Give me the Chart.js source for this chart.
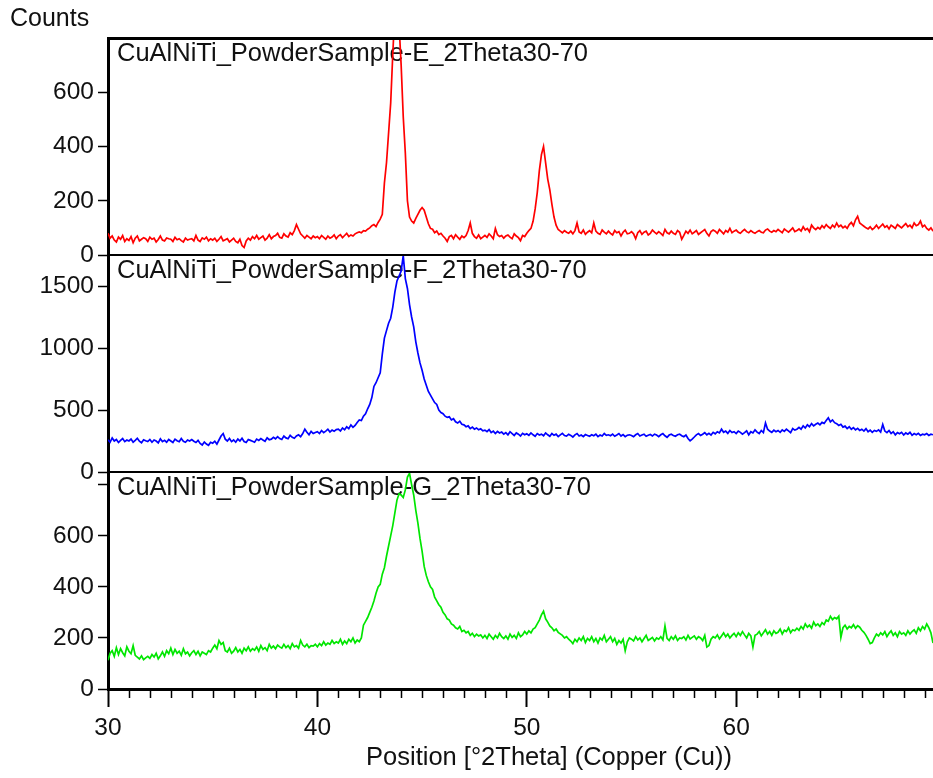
<!DOCTYPE html>
<html>
<head>
<meta charset="utf-8">
<title>CuAlNiTi powder samples - XRD</title>
<script src="https://cdn.jsdelivr.net/npm/chart.js@4.4.1/dist/chart.umd.min.js"></script>
<style>
  html, body { margin: 0; padding: 0; background: #fff; }
  #wrap { width: 933px; height: 778px; }
</style>
</head>
<body>
<div id="wrap"><canvas id="xrdChart" width="933" height="778"></canvas></div>
<script>
// scan: 30 .. 69.4 °2Theta, step 0.1
const scanStart = 30;
const scanStep = 0.1;

const sampleNames = [
  'CuAlNiTi_PowderSample-E_2Theta30-70',
  'CuAlNiTi_PowderSample-F_2Theta30-70',
  'CuAlNiTi_PowderSample-G_2Theta30-70'
];

// one row per degree (x.0 .. x.9)
const countsE = [
  80, 62, 70, 55, 48, 66, 58, 72, 50, 60,
  54, 68, 45, 62, 70, 52, 58, 64, 60, 50,
  66, 58, 62, 48, 57, 70, 55, 52, 63, 60,
  58, 50, 65, 56, 60, 53, 48, 62, 55, 58,
  60, 52, 72, 55, 50, 63, 58, 66, 52, 60,
  55, 62, 50, 58, 68, 52, 56, 60, 48, 55,
  62, 50, 45, 58, 35, 28, 52, 62, 55, 68,
  60, 72, 58, 64, 70, 55, 62, 75, 60, 68,
  72, 80, 65, 62, 78, 70, 66, 82, 75, 90,
  112, 95, 78, 70, 62, 72, 66, 60, 70, 64,
  68, 60, 72, 65, 58, 70, 62, 66, 74, 60,
  70, 75, 64, 72, 80, 68, 74, 70, 78, 82,
  85, 82, 90, 88, 95, 100, 108, 112, 105, 120,
  132, 150, 265, 340, 450, 560, 740, 900, 980, 850,
  700, 510, 375, 200, 140, 125, 118, 135, 150, 165,
  175, 165, 140, 115, 98, 95, 82, 88, 75, 80,
  70, 62, 50, 68, 72, 60, 75, 66, 58, 70,
  64, 72, 90, 118, 80, 68, 62, 74, 60, 66,
  72, 65, 78, 70, 60, 98, 75, 68, 72, 62,
  70, 74, 66, 60, 78, 70, 64, 53, 72, 68,
  80, 90, 98, 124, 170, 230, 311, 370, 400, 340,
  280, 240, 187, 140, 110, 94, 88, 82, 90, 84,
  80, 88, 78, 90, 118, 85, 80, 92, 76, 84,
  90, 82, 118, 88, 80, 76, 92, 84, 78, 88,
  80, 74, 90, 82, 86, 70, 84, 92, 78, 80,
  86, 78, 60, 82, 90, 76, 84, 88, 74, 80,
  92, 84, 78, 86, 80, 72, 94, 82, 78, 88,
  80, 76, 90, 84, 58, 72, 88, 80, 92, 78,
  84, 90, 76, 82, 88, 94, 80, 70, 86, 92,
  88, 80, 94, 86, 78, 90, 84, 98, 82, 88,
  92, 84, 80, 88, 94, 86, 82, 90, 84, 80,
  86, 90, 84, 82, 92, 96, 88, 84, 90, 86,
  94, 88, 82, 96, 90, 84, 92, 100, 86, 90,
  96, 88, 104, 92, 98, 86, 110, 100, 94, 102,
  96, 108, 100, 112, 104, 98, 110, 102, 118, 104,
  110, 100, 106, 98, 112, 120, 108, 130, 143, 118,
  112, 106, 100, 96, 104, 94, 100, 110, 98, 106,
  114, 102, 108, 96, 110, 104, 98, 112, 106, 100,
  108, 116, 104, 110, 100, 118, 108, 112, 125, 104,
  110, 98, 92, 100, 88
];

const countsF = [
  260, 240, 275, 250, 262, 238, 255, 270, 245, 258,
  250, 265, 240, 255, 272, 248, 236, 260, 252, 245,
  262, 240, 258, 250, 235, 268, 245, 255, 240, 262,
  250, 238, 265, 252, 244, 270, 248, 240, 258, 250,
  262, 248, 238, 255, 230, 218, 242, 225, 215, 240,
  232, 248, 225, 258, 290, 310, 265, 250, 270, 245,
  258, 240, 265, 250, 272, 246, 238, 262, 255, 248,
  240, 265, 255, 270, 258, 248, 275, 260, 265, 280,
  268, 285, 270, 262, 290, 275, 268, 295, 280, 272,
  290, 300, 285, 310, 345, 320, 300, 328, 310, 318,
  325, 310, 335, 318, 330, 345, 322, 338, 328, 342,
  345, 330, 355, 340, 365, 350, 380, 360, 375, 400,
  420, 415, 450, 470, 510, 545, 600, 690, 720, 760,
  800, 950, 1080, 1140, 1200, 1240, 1330, 1450, 1540, 1580,
  1620, 1745, 1560, 1480, 1350, 1250, 1170, 1050, 960, 880,
  820, 750, 700, 650, 620, 590, 560, 545, 500, 480,
  470, 450, 440, 445, 420, 430, 405, 395, 410, 385,
  380, 365, 372, 350, 362, 345, 355, 340, 348, 332,
  338, 325, 342, 318, 330, 310, 328, 315, 322, 305,
  318, 300, 325, 310, 295, 315, 305, 290, 312, 300,
  308, 295, 315, 300, 288, 310, 298, 305, 292, 315,
  300, 288, 310, 296, 305, 285, 300, 312, 294, 290,
  305, 295, 282, 300, 310, 290, 298, 285, 302, 295,
  288, 300, 292, 305, 285, 298, 290, 310, 295, 300,
  292, 305, 288, 298, 310, 290, 302, 285, 296, 300,
  295, 285, 300, 310, 290, 298, 305, 288, 296, 302,
  290, 305, 298, 285, 300, 310, 292, 280, 298, 305,
  295, 288, 300, 305, 292, 285, 298, 270, 252, 265,
  282, 300, 310, 295, 305, 318, 300, 312, 298, 320,
  308, 325, 315, 345, 320, 330, 312, 335, 318, 325,
  310, 330, 320, 305, 318, 332, 300, 325, 315, 340,
  322, 310, 335, 318, 395, 345, 330, 320, 338, 325,
  335, 320, 340, 328, 345, 332, 318, 350, 338, 345,
  360, 345, 372, 355, 380, 365, 390, 372, 385, 395,
  380, 400, 392, 415, 437, 405, 420, 398, 390, 375,
  385, 362, 370, 350, 365, 345, 358, 340, 352, 335,
  345, 330, 350, 325, 338, 320, 335, 328, 340, 322,
  383, 330, 318, 335, 310, 325, 300, 318, 308, 320,
  298, 315, 305, 320, 296, 310, 300, 312, 295, 305,
  300, 310, 295, 305, 300
];

const countsG = [
  113, 140, 150, 128, 162, 135, 158, 142, 130, 165,
  148, 138, 170, 132, 125, 118, 130, 115, 122, 128,
  120, 135, 125, 140, 118, 130, 145, 128, 150, 138,
  160, 135, 155, 140, 148, 132, 158, 138, 145, 130,
  142, 150, 135, 148, 130, 145, 140, 135, 150, 145,
  160, 172, 158, 190, 175, 182, 150, 145, 160, 140,
  148, 162, 145, 155, 140, 160, 150, 165, 148, 158,
  152, 165, 148, 170, 155, 162, 150, 175, 160, 168,
  158, 172, 165, 160, 175, 162, 170, 158, 178, 165,
  170, 160, 190, 172, 165, 175, 162, 170, 168, 175,
  165, 178, 170, 185, 172, 180, 175, 190, 178, 185,
  180, 195, 175, 188, 178, 195, 185, 200, 180, 192,
  185, 200, 250, 265, 280, 300, 320, 345, 375, 400,
  410, 450, 475, 520, 560, 600, 640, 690, 740, 765,
  760, 750, 780, 830, 845, 800, 760, 700, 650, 590,
  540, 480, 445, 420, 400, 390, 360, 345, 330, 320,
  300, 290, 275, 270, 255, 250, 240, 235, 245, 225,
  230, 220, 225, 210, 218, 205, 215, 208, 212, 200,
  210, 198, 215, 205, 195, 210, 200, 218, 205, 198,
  208, 195, 215, 202, 210, 198, 220, 205, 212, 225,
  215, 228, 220, 235, 240, 255, 270, 290, 305, 275,
  262, 247, 240, 228, 235, 222, 216, 210, 200, 205,
  195, 188, 178, 195, 185, 200, 190, 205, 182, 198,
  190, 205, 185, 198, 180, 200, 192, 210, 185, 195,
  205, 185, 198, 175, 190, 180, 195, 150, 185, 200,
  195, 188, 205, 192, 200, 185, 198, 210, 190, 196,
  202, 188, 200, 195, 205, 192, 247, 198, 190, 205,
  195, 208, 190, 200, 198, 205, 192, 210, 196, 202,
  208, 195, 205, 200, 190, 210, 164, 170, 195, 205,
  200, 212, 196, 208, 220, 205, 215, 200, 210, 218,
  205, 220, 210, 225, 212, 200, 218, 208, 164, 210,
  215, 225, 208, 220, 232, 215, 225, 210, 228, 218,
  222, 235, 215, 230, 225, 240, 220, 232, 228, 238,
  230, 245, 235, 255, 242, 250, 238, 262, 248, 255,
  245, 260, 252, 270, 265, 285, 272, 280, 275, 285,
  202, 240, 250, 235, 245, 240, 252, 238, 248, 242,
  230, 222, 210, 195, 178, 182, 200, 215, 208, 220,
  212, 225, 205, 218, 228, 210, 220, 205, 225, 215,
  220, 210, 228, 215, 225, 232, 218, 240, 228, 245,
  235, 255, 240, 220, 180
];

const ticksX = [30, 40, 50, 60];
const ticksE = [0, 200, 400, 600];
const ticksF = [0, 500, 1000, 1500];
const ticksG = [0, 200, 400, 600, 800];
const unlabeledG = [800];

const xTitle = 'Position [°2Theta] (Copper (Cu))';
const yTitle = 'Counts';

const FONT = '"Liberation Sans", Arial, sans-serif';

const toPoints = counts =>
  counts.map((c, i) => ({ x: +(scanStart + i * scanStep).toFixed(1), y: c }));

const fixTicks = list => scale => {
  scale.ticks = list.map(v => ({ value: v }));
};

function yAxis(max, tickList, hidden) {
  return {
    type: 'linear',
    position: 'left',
    stack: 'panels',
    stackWeight: 1,
    min: 0,
    max: max,
    afterBuildTicks: fixTicks(tickList),
    afterFit: s => { s.width = 98; },
    grid: { drawOnChartArea: false, drawTicks: true, tickLength: 10, tickWidth: 1.5, tickColor: '#000' },
    border: { display: true, color: '#000', width: 3 },
    ticks: {
      autoSkip: false,
      padding: 4,
      color: '#111',
      font: { family: FONT, size: 24.5 },
      callback: v => (hidden && hidden.includes(v) ? '' : v)
    }
  };
}

// frame lines, panel captions, minor ticks and x title
const panelDecor = {
  id: 'panelDecor',
  beforeDatasetsDraw(chart) {
    const { ctx, chartArea } = chart;
    ctx.save();
    ctx.font = '25.5px ' + FONT;
    ctx.fillStyle = '#111';
    ctx.textBaseline = 'alphabetic';
    chart.data.datasets.forEach(ds => {
      const s = chart.scales[ds.yAxisID];
      ctx.fillText(ds.label, chartArea.left + 9, s.top + 23);
    });
    ctx.restore();
  },
  afterDraw(chart) {
    const { ctx, chartArea, scales } = chart;
    ctx.save();
    ctx.strokeStyle = '#000';

    ctx.lineWidth = 3;
    ctx.beginPath();
    ctx.moveTo(chartArea.left, chartArea.top + 0.5);
    ctx.lineTo(chartArea.right, chartArea.top + 0.5);
    ctx.stroke();

    ctx.lineWidth = 2;
    ctx.beginPath();
    [scales.yE.bottom, scales.yF.bottom].forEach(y => {
      ctx.moveTo(chartArea.left, y);
      ctx.lineTo(chartArea.right, y);
    });
    ctx.stroke();

    const x = scales.x;
    ctx.lineWidth = 1.5;
    ctx.beginPath();
    for (let v = Math.ceil(x.min); v <= x.max; v++) {
      if (v % 10 === 0) continue;
      const px = Math.round(x.getPixelForValue(v)) + 0.5;
      ctx.moveTo(px, chartArea.bottom);
      ctx.lineTo(px, chartArea.bottom + 9);
    }
    ctx.stroke();

    ctx.font = '25.5px ' + FONT;
    ctx.fillStyle = '#111';
    ctx.textAlign = 'center';
    ctx.textBaseline = 'alphabetic';
    ctx.fillText(xTitle, chartArea.left + 441, 765);
    ctx.restore();
  }
};

const ctx = document.getElementById('xrdChart').getContext('2d');
new Chart(ctx, {
  type: 'line',
  data: {
    datasets: [
      { label: sampleNames[0], data: toPoints(countsE), yAxisID: 'yE', borderColor: '#ff0000' },
      { label: sampleNames[1], data: toPoints(countsF), yAxisID: 'yF', borderColor: '#0000ff' },
      { label: sampleNames[2], data: toPoints(countsG), yAxisID: 'yG', borderColor: '#00e600' }
    ]
  },
  options: {
    responsive: false,
    animation: false,
    layout: { padding: { left: 10, right: 0, top: 0, bottom: 0 } },
    elements: {
      line: { borderWidth: 1.7, tension: 0 },
      point: { radius: 0, hoverRadius: 0 }
    },
    plugins: {
      legend: { display: false },
      tooltip: { enabled: false },
      title: {
        display: true,
        text: yTitle,
        align: 'start',
        color: '#111',
        font: { family: FONT, size: 25, weight: 'normal' },
        padding: { top: 4, bottom: 4 }
      }
    },
    scales: {
      x: {
        type: 'linear',
        position: 'bottom',
        min: 30,
        max: 69.4,
        afterBuildTicks: fixTicks(ticksX),
        afterFit: s => { s.height = 89; },
        grid: { drawOnChartArea: false, drawTicks: true, tickLength: 18, tickWidth: 2, tickColor: '#000' },
        border: { display: true, color: '#000', width: 3 },
        ticks: {
          autoSkip: false,
          maxRotation: 0,
          padding: 7,
          color: '#111',
          font: { family: FONT, size: 24.5 }
        }
      },
      yG: yAxis(850, ticksG, unlabeledG),
      yF: yAxis(1750, ticksF),
      yE: yAxis(800, ticksE)
    }
  },
  plugins: [panelDecor]
});
</script>
</body>
</html>
